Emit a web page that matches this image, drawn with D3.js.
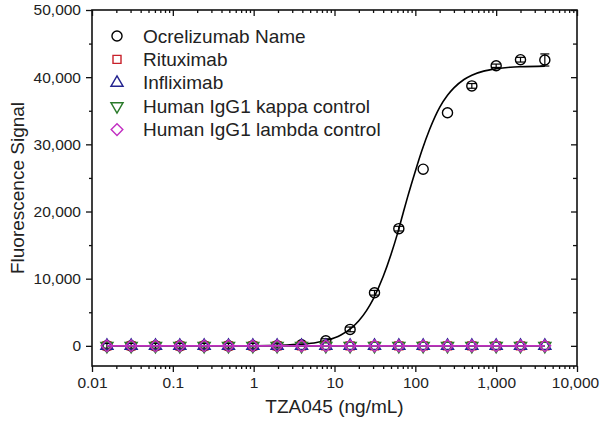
<!DOCTYPE html>
<html>
<head>
<meta charset="utf-8">
<script src="https://cdn.jsdelivr.net/npm/d3@7"></script>
<style>
  html, body { margin: 0; padding: 0; background: #fff; }
  svg { display: block; font-family: Arial, "Liberation Sans", sans-serif; }
</style>
</head>
<body>
<svg id="chart" width="600" height="425"></svg>
<script>
// ---------- data ----------
const concentrations = [0.0153, 0.0305, 0.061, 0.122, 0.244, 0.488, 0.977, 1.95, 3.91, 7.81, 15.6, 31.25, 62.5, 125, 250, 500, 1000, 2000, 4000];
const ocrelizumab    = [0, 0, 0, 0, 0, 0, 0, 30, 150, 750, 2450, 7900, 17450, 26300, 34700, 38700, 41700, 42600, 42560];
const ocrelizumabErr = [350, 350, 350, 350, 350, 350, 350, 350, 0, 300, 350, 350, 350, 0, 0, 350, 250, 350, 900];
const rituximab      = [0, 0, 0, 0, 0, 0, 0, 0, 0, 0, 0, 0, 0, 0, 0, 0, 0, 0, 0];
const infliximab     = [0, 0, 0, 0, 0, 0, 0, 0, 0, 0, 0, 0, 0, 0, 0, 0, 0, 0, 0];
const kappaControl   = [0, 0, 0, 0, 0, 0, 0, 0, 0, 0, 0, 0, 0, 0, 0, 0, 0, 0, 0];
const lambdaControl  = [0, 0, 0, 0, 0, 0, 0, 0, 0, 0, 0, 0, 0, 0, 0, 0, 0, 0, 0];

// fitted curve
const fitX = [0.0153, 0.1, 0.5, 1, 2, 4, 6, 8, 12, 16, 20, 25, 30, 40, 50, 60, 70, 80, 100, 120, 150, 200, 250, 300, 400, 500, 700, 1000, 1500, 2000, 4000];
const fitY = [0, 0, 7, 22, 75, 250, 500, 820, 1620, 2610, 3740, 5290, 6930, 10320, 13610, 16670, 19600, 22100, 26000, 29000, 32200, 35500, 37300, 38400, 39650, 40300, 40900, 41250, 41480, 41560, 41650];

const seriesNames  = ["Ocrelizumab Name", "Rituximab", "Infliximab", "Human IgG1 kappa control", "Human IgG1 lambda control"];
const seriesColors = ["#000000", "#c8202a", "#23238f", "#2a7a2a", "#c22fc2"];

const xTickValues = [0.01, 0.1, 1, 10, 100, 1000, 10000];
const xTickLabels = ["0.01", "0.1", "1", "10", "100", "1,000", "10,000"];
const yTickValues = [0, 10000, 20000, 30000, 40000, 50000];
const yTickLabels = ["0", "10,000", "20,000", "30,000", "40,000", "50,000"];
const yMinorValues = [5000, 15000, 25000, 35000, 45000];

const xTitle = "TZA045 (ng/mL)";
const yTitle = "Fluorescence Signal";

// ---------- layout ----------
const L = 92, R = 577, T = 10, B = 366;
const svg = d3.select("#chart");

const x = d3.scaleLog().domain([0.01, 10000]).range([L, R]);
const y = d3.scaleLinear().domain([-3000, 50000]).range([B, T]);

const xMinor = [];
for (let e = -2; e < 4; e++) for (let m = 2; m <= 9; m++) xMinor.push(m * Math.pow(10, e));

function styleAxis(g) {
  g.select(".domain").remove();
  g.selectAll(".tick line").attr("stroke", "#111").attr("stroke-width", 1.3);
  g.selectAll(".tick text").attr("fill", "#222").style("font-size", "15.5px").style("font-family", "Arial, 'Liberation Sans', sans-serif");
}

// bottom axis (outward)
const bottomAxis = svg.append("g").attr("transform", `translate(0,${B})`)
  .call(d3.axisBottom(x).tickValues(xTickValues).tickSize(6).tickPadding(5)
    .tickFormat((d, i) => xTickLabels[i]))
  .call(styleAxis);
bottomAxis.selectAll(".tick text").filter((d, i) => i === xTickValues.length - 1).attr("dx", "-2");
svg.append("g").attr("transform", `translate(0,${B})`)
  .call(d3.axisBottom(x).tickValues(xMinor).tickSize(3).tickFormat(""))
  .call(styleAxis);
// top axis (inward)
svg.append("g").attr("transform", `translate(0,${T})`)
  .call(d3.axisBottom(x).tickValues(xTickValues).tickSize(6).tickFormat(""))
  .call(styleAxis);
svg.append("g").attr("transform", `translate(0,${T})`)
  .call(d3.axisBottom(x).tickValues(xMinor).tickSize(3).tickFormat(""))
  .call(styleAxis);
// left axis (outward)
svg.append("g").attr("transform", `translate(${L},0)`)
  .call(d3.axisLeft(y).tickValues(yTickValues).tickSize(6).tickPadding(5)
    .tickFormat((d, i) => yTickLabels[i]))
  .call(styleAxis);
svg.append("g").attr("transform", `translate(${L},0)`)
  .call(d3.axisLeft(y).tickValues(yMinorValues).tickSize(3).tickFormat(""))
  .call(styleAxis);
// right axis (inward)
svg.append("g").attr("transform", `translate(${R},0)`)
  .call(d3.axisLeft(y).tickValues(yTickValues).tickSize(6).tickFormat(""))
  .call(styleAxis);
svg.append("g").attr("transform", `translate(${R},0)`)
  .call(d3.axisLeft(y).tickValues(yMinorValues).tickSize(4).tickFormat(""))
  .call(styleAxis);

// frame
svg.append("rect").attr("x", L).attr("y", T).attr("width", R - L).attr("height", B - T)
  .attr("fill", "none").attr("stroke", "#111").attr("stroke-width", 1.6);

// titles
svg.append("text").attr("x", (L + R) / 2).attr("y", 413).attr("text-anchor", "middle")
  .attr("fill", "#222").style("font-size", "19px").text(xTitle);
svg.append("text").attr("transform", `translate(24,${(T + B) / 2}) rotate(-90)`)
  .attr("text-anchor", "middle").attr("fill", "#222").style("font-size", "19px").text(yTitle);

// ---------- marks ----------
const plot = svg.append("g");

const symbols = [
  { type: d3.symbolCircle, size: 80, rot: 0 },
  { type: d3.symbolSquare, size: 64, rot: 0 },
  { type: d3.symbolTriangle, size: 64, rot: 0 },
  { type: d3.symbolTriangle, size: 64, rot: 180 },
  { type: d3.symbolSquare, size: 68, rot: 45 }
];

// Ocrelizumab fit curve
const fitPts = fitX.map((v, i) => [v, fitY[i]]);
plot.append("path").datum(fitPts)
  .attr("fill", "none").attr("stroke", "#000").attr("stroke-width", 1.6)
  .attr("d", d3.line().x(d => x(d[0])).y(d => y(d[1])).curve(d3.curveMonotoneX));

// error bars
const errG = plot.append("g").attr("stroke", "#000").attr("stroke-width", 1.2);
concentrations.forEach((c, i) => {
  const e = ocrelizumabErr[i];
  if (!e) return;
  const cx = x(c), y1 = y(ocrelizumab[i] + e), y0 = y(ocrelizumab[i] - e);
  errG.append("line").attr("x1", cx).attr("x2", cx).attr("y1", y1).attr("y2", y0);
  errG.append("line").attr("x1", cx - 4.5).attr("x2", cx + 4.5).attr("y1", y1).attr("y2", y1);
  errG.append("line").attr("x1", cx - 4.5).attr("x2", cx + 4.5).attr("y1", y0).attr("y2", y0);
});

function drawMarkers(values, idx) {
  const s = symbols[idx];
  plot.append("g").selectAll("path").data(values).join("path")
    .attr("transform", (d, i) => `translate(${x(concentrations[i])},${y(d)}) rotate(${s.rot})`)
    .attr("d", d3.symbol().type(s.type).size(s.size))
    .attr("fill", "none").attr("stroke", seriesColors[idx]).attr("stroke-width", 1.4);
}
drawMarkers(ocrelizumab, 0);

const controls = [rituximab, infliximab, kappaControl, lambdaControl];
controls.forEach((vals, k) => {
  const idx = k + 1;
  plot.append("path").datum(vals)
    .attr("fill", "none").attr("stroke", seriesColors[idx]).attr("stroke-width", 1.6)
    .attr("d", d3.line().x((d, i) => x(concentrations[i])).y(d => y(d)));
  drawMarkers(vals, idx);
});

// ---------- legend ----------
const legend = svg.append("g");
seriesNames.forEach((name, i) => {
  const ly = 36 + i * 23.4;
  const s = symbols[i];
  legend.append("path")
    .attr("transform", `translate(117,${ly}) rotate(${s.rot})`)
    .attr("d", d3.symbol().type(s.type).size(s.size))
    .attr("fill", "none").attr("stroke", seriesColors[i]).attr("stroke-width", 1.4);
  legend.append("text").attr("x", 143).attr("y", ly).attr("dy", "0.35em")
    .attr("fill", "#222").style("font-size", "19px").text(name);
});
</script>
</body>
</html>
